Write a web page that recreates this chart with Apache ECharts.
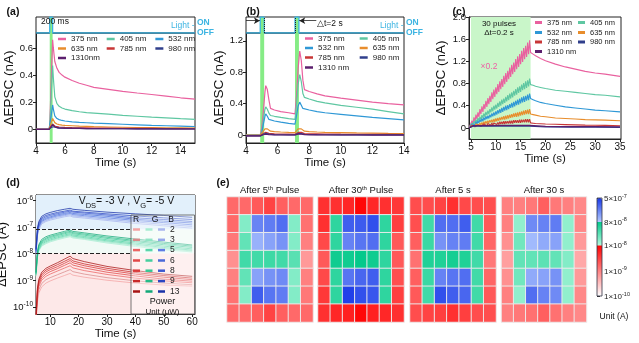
<!DOCTYPE html>
<html><head><meta charset="utf-8">
<script src="https://cdn.jsdelivr.net/npm/echarts@6/dist/echarts.min.js"></script>
<style>html,body{margin:0;padding:0;background:#fff}#c{width:639px;height:343px}</style>
</head><body><div id="c"></div>
<script>
// ---------------- DATA ----------------
// (a) single 200 ms pulse
const aTime = [4,4.9,4.95,5.05,5.15,5.2,5.3,5.45,5.6,5.8,6,6.5,7,7.5,8,9,10,11,12,13,14,15];
const a375  = [0,0,0.02,0.35,0.66,0.6,0.5,0.45,0.42,0.4,0.385,0.36,0.34,0.325,0.31,0.295,0.28,0.268,0.257,0.245,0.233,0.223];
const a405  = [0,0,0.02,0.25,0.47,0.38,0.24,0.19,0.17,0.158,0.15,0.138,0.13,0.124,0.12,0.112,0.104,0.097,0.09,0.085,0.079,0.074];
const a532  = [0,0,0.01,0.1,0.18,0.15,0.1,0.08,0.072,0.066,0.062,0.056,0.052,0.049,0.046,0.042,0.038,0.034,0.03,0.027,0.024,0.021];
const a635  = [0,0,0.005,0.05,0.08,0.07,0.05,0.04,0.035,0.032,0.03,0.027,0.024,0.022,0.02,0.018,0.016,0.014,0.013,0.012,0.011,0.01];
const a785  = [0,0,0.003,0.025,0.04,0.035,0.025,0.02,0.018,0.016,0.015,0.013,0.012,0.011,0.01,0.009,0.008,0.007,0.007,0.006,0.006,0.005];
const a980  = [0,0,0.002,0.015,0.025,0.02,0.015,0.012,0.01,0.009,0.008,0.007,0.007,0.006,0.006,0.005,0.005,0.004,0.004,0.004,0.003,0.003];
const a1310 = [0,0,0.003,0.02,0.035,0.03,0.02,0.015,0.012,0.01,0.009,0.008,0.007,0.006,0.006,0.005,0.005,0.004,0.004,0.003,0.003,0.003];
const aLightTime = [4,4.95,4.95,5.15,5.15,15];
const aLight     = [0,0,1.6,1.6,0,0];
const aBand = [4.95,5.15];

// (b) paired pulses, dt = 2 s
const bTime = [4,4.9,5.0,5.1,5.2,5.25,5.35,5.45,5.55,5.8,6.2,6.7,7.1,7.2,7.3,7.4,7.5,7.6,7.7,8,8.5,9,10,11,12,13,14];
const b375  = [0,0,0.1,0.3,0.55,0.63,0.58,0.45,0.34,0.32,0.3,0.285,0.27,0.5,0.85,1.07,0.95,0.7,0.58,0.555,0.525,0.5,0.47,0.445,0.42,0.4,0.385];
const b405  = [0,0,0.05,0.2,0.33,0.36,0.33,0.28,0.25,0.24,0.225,0.21,0.2,0.4,0.65,0.77,0.68,0.53,0.48,0.46,0.43,0.41,0.38,0.355,0.33,0.3,0.27];
const b532  = [0,0,0.03,0.14,0.24,0.27,0.24,0.2,0.19,0.18,0.165,0.15,0.14,0.25,0.37,0.42,0.38,0.34,0.33,0.32,0.3,0.285,0.265,0.245,0.225,0.21,0.195];
const b635  = [0,0,0.01,0.05,0.08,0.09,0.08,0.06,0.05,0.045,0.04,0.035,0.033,0.05,0.08,0.09,0.08,0.06,0.05,0.045,0.04,0.036,0.032,0.028,0.025,0.022,0.02];
const b785  = [-0.005,-0.005,0.005,0.02,0.03,0.035,0.03,0.022,0.018,0.015,0.013,0.012,0.011,0.02,0.035,0.04,0.035,0.025,0.02,0.018,0.016,0.014,0.012,0.011,0.01,0.009,0.008];
const b980  = [-0.01,-0.01,0,0.012,0.02,0.022,0.018,0.012,0.008,0.006,0.005,0.004,0.004,0.012,0.02,0.025,0.02,0.014,0.01,0.008,0.006,0.005,0.004,0.004,0.003,0.003,0.003];
const b1310 = [-0.01,-0.01,-0.005,0.005,0.01,0.012,0.01,0.006,0.004,0.003,0.002,0.002,0.002,0.006,0.012,0.015,0.012,0.008,0.006,0.004,0.003,0.002,0.002,0.002,0.001,0.001,0.001];
const bLightTime = [4,4.9,4.9,5.15,5.15,7.1,7.1,7.35,7.35,14];
const bLight     = [0,0,1.6,1.6,0,0,1.6,1.6,0,0];
const bBands = [[4.9,5.15],[7.1,7.35]];

// (c) 30 pulses, dt = 0.2 s
const cRampTime = [5.0,5.2,5.4,5.6,5.8,6.0,6.2,6.4,6.6,6.8,7.0,7.2,7.4,7.6,7.8,8.0,8.2,8.4,8.6,8.8,9.0,9.2,9.4,9.6,9.8,10.0,10.2,10.4,10.6,10.8,11.0,11.2,11.4,11.6,11.8,12.0,12.2,12.4,12.6,12.8,13.0,13.2,13.4,13.6,13.8,14.0,14.2,14.4,14.6,14.8,15.0,15.2,15.4,15.6,15.8,16.0,16.2,16.4,16.6,16.8];
const c375Peak   = [0.13,0.19,0.24,0.28,0.34,0.39,0.43,0.49,0.54,0.58,0.64,0.69,0.73,0.79,0.84,0.88,0.94,0.99,1.03,1.09,1.14,1.18,1.24,1.29,1.33,1.39,1.44,1.48,1.54,1.58];
const c375Trough = [0.07,0.11,0.16,0.20,0.25,0.29,0.34,0.38,0.43,0.47,0.52,0.56,0.61,0.65,0.70,0.74,0.79,0.83,0.88,0.92,0.97,1.01,1.06,1.10,1.15,1.19,1.24,1.28,1.33];
const c405Peak   = [0.09,0.12,0.15,0.18,0.20,0.23,0.26,0.29,0.31,0.34,0.37,0.40,0.42,0.45,0.48,0.51,0.53,0.56,0.59,0.62,0.64,0.67,0.70,0.73,0.75,0.78,0.81,0.84,0.86,0.89];
const c405Trough = [0.05,0.08,0.10,0.13,0.15,0.18,0.20,0.23,0.25,0.28,0.30,0.33,0.35,0.38,0.40,0.43,0.45,0.48,0.50,0.53,0.55,0.58,0.60,0.63,0.65,0.68,0.70,0.72,0.75];
const c532Peak   = [0.07,0.09,0.11,0.13,0.15,0.17,0.19,0.21,0.22,0.24,0.26,0.28,0.30,0.32,0.34,0.36,0.38,0.40,0.41,0.43,0.45,0.47,0.49,0.51,0.53,0.55,0.57,0.58,0.60,0.62];
const c532Trough = [0.04,0.06,0.07,0.09,0.11,0.12,0.14,0.16,0.17,0.19,0.21,0.22,0.24,0.26,0.27,0.29,0.31,0.32,0.34,0.36,0.37,0.39,0.41,0.42,0.44,0.46,0.47,0.49,0.50];
const c635Peak   = [0.05,0.06,0.07,0.08,0.09,0.10,0.11,0.12,0.13,0.14,0.15,0.16,0.17,0.18,0.19,0.20,0.21,0.22,0.23,0.24,0.25,0.26,0.27,0.28,0.29,0.30,0.31,0.32,0.33,0.34];
const c635Trough = [0.02,0.03,0.04,0.05,0.05,0.06,0.07,0.08,0.09,0.10,0.10,0.11,0.12,0.13,0.14,0.15,0.15,0.16,0.17,0.18,0.19,0.20,0.20,0.21,0.22,0.23,0.24,0.25,0.25];
const c785Peak   = [0.04,0.04,0.05,0.05,0.06,0.06,0.07,0.07,0.08,0.08,0.09,0.09,0.10,0.10,0.11,0.11,0.12,0.12,0.12,0.13,0.13,0.14,0.14,0.14,0.15,0.15,0.15,0.16,0.16,0.16];
const c785Trough = [0.01,0.02,0.02,0.03,0.03,0.03,0.04,0.04,0.05,0.05,0.05,0.06,0.06,0.06,0.07,0.07,0.07,0.08,0.08,0.08,0.08,0.09,0.09,0.09,0.09,0.10,0.10,0.10,0.10];
const cDecayTime = [17,17.5,18,19,20,22,24,26,28,30,32,35];
const c375Decay = [1.36,1.33,1.30,1.25,1.21,1.15,1.10,1.06,1.02,0.99,0.97,0.93];
const c405Decay = [0.78,0.77,0.75,0.73,0.71,0.68,0.66,0.64,0.62,0.60,0.59,0.56];
const c532Decay = [0.53,0.51,0.49,0.46,0.44,0.41,0.38,0.36,0.34,0.32,0.31,0.29];
const c635Decay = [0.25,0.24,0.23,0.21,0.20,0.18,0.17,0.16,0.15,0.145,0.14,0.13];
const c785Decay = [0.09,0.085,0.08,0.075,0.07,0.065,0.06,0.055,0.05,0.048,0.045,0.04];
const cLowTime = [4.6,5.0,5.4,8,11,14,16.8,17,20,25,30,35];
const c980  = [0,0,0.03,0.032,0.03,0.032,0.03,0.02,0.017,0.014,0.012,0.01];
const c1310 = [0,0,0.04,0.042,0.045,0.044,0.045,0.032,0.027,0.024,0.022,0.02];
const cBand = [5,17];

// (d) RGB light, log current
const dTime = [5,5.5,6,7,8.5,10,12.5,15,17,18,22,30,40,50,60];
const powers = ['2','3','5','6','8','9','13'];
const dB2  = [9e-9,4.5e-8,8e-8,1.3e-7,1.6e-7,1.8e-7,2.1e-7,2.4e-7,2.6e-7,2.35e-7,2.15e-7,1.75e-7,1.35e-7,1.1e-7,9e-8];
const dB3  = [1.0e-8,5e-8,9e-8,1.45e-7,1.75e-7,2.0e-7,2.35e-7,2.65e-7,2.9e-7,2.6e-7,2.4e-7,1.95e-7,1.55e-7,1.25e-7,1.05e-7];
const dB5  = [1.1e-8,5.5e-8,1.0e-7,1.6e-7,1.95e-7,2.2e-7,2.6e-7,2.9e-7,3.2e-7,2.9e-7,2.65e-7,2.2e-7,1.75e-7,1.45e-7,1.2e-7];
const dB6  = [1.2e-8,6.2e-8,1.1e-7,1.75e-7,2.15e-7,2.4e-7,2.85e-7,3.2e-7,3.5e-7,3.2e-7,2.95e-7,2.5e-7,1.95e-7,1.65e-7,1.4e-7];
const dB8  = [1.3e-8,7e-8,1.25e-7,1.95e-7,2.4e-7,2.7e-7,3.15e-7,3.55e-7,3.9e-7,3.6e-7,3.3e-7,2.8e-7,2.2e-7,1.9e-7,1.6e-7];
const dB9  = [1.4e-8,8e-8,1.4e-7,2.2e-7,2.7e-7,3.0e-7,3.5e-7,3.9e-7,4.3e-7,3.9e-7,3.6e-7,3.1e-7,2.6e-7,2.2e-7,1.9e-7];
const dB13 = [1.5e-8,9e-8,1.6e-7,2.5e-7,3.1e-7,3.5e-7,4.1e-7,4.6e-7,5.0e-7,4.6e-7,4.2e-7,3.6e-7,3.1e-7,2.7e-7,2.3e-7];
const dG2  = [1.4e-9,7e-9,1.25e-8,1.9e-8,2.35e-8,2.75e-8,3.3e-8,3.85e-8,4.3e-8,3.85e-8,3.4e-8,2.5e-8,1.85e-8,1.4e-8,1.15e-8];
const dG3  = [1.5e-9,7.5e-9,1.35e-8,2.05e-8,2.55e-8,3.0e-8,3.6e-8,4.2e-8,4.7e-8,4.2e-8,3.7e-8,2.75e-8,2.05e-8,1.55e-8,1.25e-8];
const dG5  = [1.6e-9,8.2e-9,1.45e-8,2.25e-8,2.8e-8,3.25e-8,3.9e-8,4.55e-8,5.1e-8,4.55e-8,4.0e-8,3.0e-8,2.25e-8,1.7e-8,1.35e-8];
const dG6  = [1.7e-9,9e-9,1.6e-8,2.5e-8,3.1e-8,3.6e-8,4.3e-8,5.0e-8,5.6e-8,5.0e-8,4.4e-8,3.3e-8,2.5e-8,1.9e-8,1.5e-8];
const dG8  = [1.8e-9,1.0e-8,1.8e-8,2.75e-8,3.45e-8,4.0e-8,4.75e-8,5.55e-8,6.2e-8,5.55e-8,4.9e-8,3.7e-8,2.8e-8,2.15e-8,1.7e-8];
const dG9  = [1.9e-9,1.1e-8,2.0e-8,3.0e-8,3.8e-8,4.4e-8,5.2e-8,6.1e-8,6.8e-8,6.1e-8,5.4e-8,4.1e-8,3.1e-8,2.4e-8,1.9e-8];
const dG13 = [2e-9,1.2e-8,2.2e-8,3.4e-8,4.3e-8,4.9e-8,5.8e-8,6.8e-8,7.6e-8,6.8e-8,6.0e-8,4.6e-8,3.5e-8,2.7e-8,2.1e-8];
const dR2  = [2.8e-11,1.5e-10,3.3e-10,5.6e-10,7.8e-10,9.4e-10,1.2e-9,1.5e-9,1.8e-9,1.55e-9,1.3e-9,1.0e-9,7.8e-10,6.6e-10,6e-10];
const dR3  = [3e-11,2.0e-10,4.4e-10,7.5e-10,1.05e-9,1.25e-9,1.6e-9,2.05e-9,2.5e-9,2.1e-9,1.7e-9,1.25e-9,9.5e-10,7.8e-10,6.8e-10];
const dR5  = [3.2e-11,2.6e-10,5.8e-10,1.0e-9,1.4e-9,1.7e-9,2.2e-9,2.85e-9,3.5e-9,2.9e-9,2.3e-9,1.65e-9,1.2e-9,9.5e-10,8e-10];
const dR6  = [3.4e-11,3.2e-10,7e-10,1.2e-9,1.7e-9,2.1e-9,2.7e-9,3.6e-9,4.5e-9,3.7e-9,2.9e-9,2.0e-9,1.45e-9,1.1e-9,9.2e-10];
const dR8  = [3.6e-11,3.8e-10,8.2e-10,1.45e-9,2.05e-9,2.5e-9,3.2e-9,4.3e-9,5.5e-9,4.5e-9,3.5e-9,2.4e-9,1.7e-9,1.3e-9,1.05e-9];
const dR9  = [3.8e-11,4.3e-10,9.5e-10,1.7e-9,2.4e-9,2.9e-9,3.8e-9,5.1e-9,6.5e-9,5.3e-9,4.1e-9,2.8e-9,1.95e-9,1.5e-9,1.2e-9];
const dR13 = [4e-11,5e-10,1.1e-9,2.0e-9,2.8e-9,3.4e-9,4.5e-9,6.2e-9,8.0e-9,6.5e-9,5.0e-9,3.3e-9,2.3e-9,1.7e-9,1.4e-9];
const dThresholds = [8e-8, 1e-8];

// (e) 7x7 pixel maps (A)
const hmTitles = ['After 5{sup|th} Pulse','After 30{sup|th} Pulse','After 5 s','After 30 s'];
const hm5thPulse = [
 [1.5e-9,1.5e-9,2e-9,3e-9,1.8e-9,1.5e-9,1.5e-9],
 [1.5e-9,1.7e-8,1.9e-7,2.1e-7,2.5e-7,1.7e-8,1.3e-9],
 [1.15e-9,2.5e-8,1.07e-7,1.3e-7,1.6e-7,1.7e-8,1e-9],
 [7.4e-10,3.7e-8,3.7e-8,3.9e-8,3.7e-8,2.8e-8,6.3e-10],
 [1e-9,2.5e-8,1.3e-7,1.6e-7,1.75e-7,1.7e-8,1e-9],
 [1.3e-9,1.7e-8,3.1e-7,2.3e-7,2.1e-7,1.7e-8,1.15e-9],
 [1.5e-9,1.5e-9,1.8e-9,3e-9,1.8e-9,1.5e-9,1.5e-9]];
const hm30thPulse = [
 [4.2e-9,4.2e-9,4.9e-9,8.7e-9,4.9e-9,4.2e-9,3.6e-9],
 [4.2e-9,4.6e-8,3.1e-7,3.2e-7,3.7e-7,4.6e-8,3.2e-9],
 [2.7e-9,4.6e-8,1.95e-7,2.3e-7,2.5e-7,4.6e-8,2e-9],
 [2e-9,6.6e-8,6.6e-8,7.5e-8,6.6e-8,4.6e-8,2e-9],
 [2.7e-9,4.6e-8,2.3e-7,2.8e-7,3.1e-7,4.6e-8,2.4e-9],
 [3.6e-9,4.6e-8,4.5e-7,3.7e-7,3.4e-7,4.6e-8,3.2e-9],
 [4.2e-9,4.9e-9,5.6e-9,8.7e-9,5.6e-9,4.9e-9,4.2e-9]];
const hmAfter5s = [
 [2.5e-9,2.5e-9,3e-9,4.2e-9,2.7e-9,2.5e-9,2.4e-9],
 [2.4e-9,3.7e-8,2.5e-7,2.5e-7,3.1e-7,3.7e-8,2e-9],
 [1.8e-9,4e-8,1.6e-7,1.95e-7,2.1e-7,3.7e-8,1.6e-9],
 [1.3e-9,5.5e-8,5.5e-8,6.2e-8,5.5e-8,3.7e-8,1.15e-9],
 [1.8e-9,4e-8,1.95e-7,2.3e-7,2.5e-7,3.7e-8,1.6e-9],
 [2e-9,3.7e-8,3.7e-7,3.1e-7,2.8e-7,3.7e-8,2e-9],
 [2.5e-9,3e-9,3.2e-9,4.2e-9,3.2e-9,2.5e-9,2.4e-9]];
const hmAfter30s = [
 [1e-9,1e-9,1.15e-9,1.8e-9,1.15e-9,1e-9,8.5e-10],
 [1e-9,1.45e-8,1.75e-7,1.95e-7,2.1e-7,1.45e-8,8.5e-10],
 [7.4e-10,2.1e-8,9.5e-8,1.17e-7,1.3e-7,1.45e-8,6.3e-10],
 [5.6e-10,2.5e-8,2.5e-8,2.7e-8,2.5e-8,1.7e-8,4.8e-10],
 [7.4e-10,2.1e-8,1.17e-7,1.3e-7,1.6e-7,1.45e-8,6.3e-10],
 [1e-9,1.45e-8,2.5e-7,1.95e-7,1.75e-7,1.45e-8,8.5e-10],
 [1e-9,1.15e-9,1.3e-9,1.8e-9,1.3e-9,1e-9,8.5e-10]];
const cbTicks = [1e-10,1e-9,1e-8,8e-8,5e-7];
const cbTickLabels = [['1','-10'],['1','-9'],['1','-8'],['8','-8'],['5','-7']];

// ---------------- STYLE / BUILD ----------------
const FONT = "'Liberation Sans', Arial, sans-serif";
const NARROW = "'Liberation Sans Narrow', 'Arial Narrow', 'Liberation Sans', sans-serif";
const COL = {'375':'#e9619f','405':'#5fc7a2','532':'#2f98d6','635':'#e88d2c','785':'#c83636','980':'#303f8c','1310':'#5c1f6e'};
const CYAN = '#3cb4e2';
const BAND = '#86ec86';

function pairs(xs, ys){ return xs.map((x,i)=>[x, ys[i]]); }
function ramp(peaks, troughs){ const v=[0]; for(let i=0;i<peaks.length;i++){ v.push(peaks[i]); if(i<troughs.length) v.push(troughs[i]); } return v; }

function xAxisV(gi, min, max, ticks, extra){
  return Object.assign({type:'value', gridIndex:gi, min, max,
    axisLine:{show:true, onZero:false, lineStyle:{color:'#222'}},
    axisTick:{show:true, customValues:ticks, length:3, lineStyle:{color:'#222'}},
    axisLabel:{customValues:ticks, color:'#111', fontSize:10, margin:3, fontFamily:FONT},
    splitLine:{show:false}, name:'Time (s)', nameLocation:'middle', nameGap:13,
    nameTextStyle:{fontSize:11.5, color:'#111', fontFamily:FONT}}, extra||{});
}
function yAxisV(gi, min, max, ticks, fmt, extra){
  return Object.assign({type:'value', gridIndex:gi, min, max,
    axisLine:{show:true, onZero:false, lineStyle:{color:'#222'}},
    axisTick:{show:true, customValues:ticks, length:3, lineStyle:{color:'#222'}},
    axisLabel:{customValues:ticks, formatter:fmt, color:'#111', fontSize:9.5, margin:3, fontFamily:FONT},
    splitLine:{show:false}, name:'ΔEPSC (nA)', nameLocation:'middle', nameGap:16,
    nameTextStyle:{fontSize:13.5, color:'#111', fontFamily:FONT}}, extra||{});
}
const numFmt = d => v => (Math.abs(v) < 1e-9 ? '0' : v.toFixed(d));

const grids = [
  [36,17,159,16],[36,33,159,110],[246,17,158,16],[246,33,158,110],
  [469,17,152,122],[36,195,159,119],
  [227,197,86,125],[318,197,86,125],[410,197,86,125],[501.5,197,85,125],
  [597,198,5,98]
].map((g,i)=>({left:g[0], top:g[1], width:g[2], height:g[3], containLabel:false, outerBoundsMode:'none',
  show: i<=5, borderColor:'#222', borderWidth:1, backgroundColor:'transparent'}));

const stripY = gi => ({type:'value', gridIndex:gi, min:0, max:1.6, position:'right',
  axisLine:{show:false}, axisTick:{show:false}, splitLine:{show:false},
  axisLabel:{customValues:[0,1], formatter:v=>v>0.5?'ON':'OFF', color:CYAN, fontSize:8.5, margin:2, fontFamily:FONT, fontWeight:'bold'}});

const catAx = (gi, inv) => ({type:'category', gridIndex:gi, data:['0','1','2','3','4','5','6'], show:false, inverse:!!inv});

const xAxes = [
  {type:'value', gridIndex:0, min:4, max:15, show:false},
  xAxisV(1, 4, 15, [4,6,8,10,12,14], {nameGap:12}),
  {type:'value', gridIndex:2, min:4, max:14, show:false},
  xAxisV(3, 4, 14, [4,6,8,10,12,14], {nameGap:13}),
  xAxisV(4, 4.6, 35.2, [5,10,15,20,25,30,35], {nameGap:11}),
  xAxisV(5, 5, 61, [10,20,30,40,50,60], {nameGap:10, nameTextStyle:{fontSize:11.5, color:'#111', fontFamily:FONT}}),
  catAx(6), catAx(7), catAx(8), catAx(9),
  {type:'value', gridIndex:10, min:0, max:1, show:false}
];

function ampToU(a){
  const L = Math.log10(a), l8 = Math.log10(8e-8), l5 = Math.log10(5e-7);
  if (L <= -8) return Math.max(0, (L+10)/2*52);
  if (L <= l8) return 52 + (L+8)/(l8+8)*24;
  return Math.min(100, 76 + (L-l8)/(l5-l8)*24);
}
function mix(c1,c2,t){ return 'rgb('+c1.map((v,i)=>Math.round(v+(c2[i]-v)*t)).join(',')+')'; }
function colorAt(u){
  if (u < 52) return mix([255,255,255],[255,0,0],u/52);
  if (u < 76) return mix([176,248,220],[0,200,136],(u-52)/24);
  return mix([176,200,255],[24,56,232],(u-76)/24);
}
const stops = []; for (let i=0;i<=200;i++) stops.push(colorAt(i/2));
const cbU = cbTicks.map(ampToU);

const supRich = {
  b:{fontSize:9.5, verticalAlign:'bottom', fontFamily:FONT, color:'#111'},
  s:{fontSize:6.5, verticalAlign:'bottom', padding:[0,0,5,0], fontFamily:FONT, color:'#111'}
};

const yAxes = [
  stripY(0),
  yAxisV(1, -0.1, 0.71, [0,0.2,0.4,0.6], numFmt(1), {nameGap:18}),
  stripY(2),
  yAxisV(3, -0.1, 1.3, [0,0.4,0.8,1.2], numFmt(1), {nameGap:18}),
  yAxisV(4, -0.2, 2.0, [0,0.4,0.8,1.2,1.6,2.0], numFmt(1), {nameGap:21}),
  {type:'log', logBase:10, gridIndex:5, min:5.4e-11, max:1.58e-6,
   axisLine:{show:true, onZero:false, lineStyle:{color:'#222'}},
   axisTick:{show:true, customValues:[1e-10,1e-9,1e-8,1e-7,1e-6], length:3, lineStyle:{color:'#222'}},
   minorTick:{show:false}, splitLine:{show:false},
   axisLabel:{customValues:[1e-10,1e-9,1e-8,1e-7,1e-6], margin:3,
     formatter:v=>'{b|10}{s|'+Math.round(Math.log10(v))+'}', rich:supRich},
   name:'ΔEPSC (A)', nameLocation:'middle', nameGap:20, nameTextStyle:{fontSize:13, color:'#111', fontFamily:FONT}},
  catAx(6,true), catAx(7,true), catAx(8,true), catAx(9,true),
  {type:'value', gridIndex:10, min:0, max:100, position:'right',
   axisLine:{show:false}, splitLine:{show:false},
   axisTick:{show:true, customValues:cbU, length:3, lineStyle:{color:'#333'}},
   axisLabel:{customValues:cbU, margin:2, formatter:v=>{
       let k=0, best=1e9; cbU.forEach((u,i)=>{ if(Math.abs(u-v)<best){best=Math.abs(u-v);k=i;} });
       return '{b|'+cbTickLabels[k][0]+'×10}{s|'+cbTickLabels[k][1]+'}'; },
     rich:{b:{fontSize:8, verticalAlign:'bottom', fontFamily:FONT, color:'#222'}, s:{fontSize:5.5, verticalAlign:'bottom', padding:[0,0,4,0], fontFamily:FONT, color:'#222'}}}}
];

const series = [];
function line(name, gi, data, color, extra){
  series.push(Object.assign({type:'line', name, xAxisIndex:gi, yAxisIndex:gi, data, showSymbol:false, symbol:'none',
    color, lineStyle:{width:1.2, color}, silent:true, z:3, animation:false}, extra||{}));
}

// (a)
line('strip-a', 0, pairs(aLightTime, aLight), CYAN, {lineStyle:{width:1.3, color:CYAN},
  markArea:{silent:true, itemStyle:{color:BAND}, data:[[{xAxis:aBand[0]},{xAxis:aBand[1]}]]}, z:2});
[['375 nm',a375,'375'],['405 nm',a405,'405'],['532 nm',a532,'532'],['635 nm',a635,'635'],['785 nm',a785,'785'],['980 nm',a980,'980'],['1310nm',a1310,'1310']]
  .forEach((s,i)=>line(s[0],1,pairs(aTime,s[1]),COL[s[2]], i===0?{markArea:{silent:true,itemStyle:{color:BAND},data:[[{xAxis:aBand[0]},{xAxis:aBand[1]}]]}}:{}));
// (b)
line('strip-b', 2, pairs(bLightTime, bLight), CYAN, {lineStyle:{width:1.3, color:CYAN}, z:2,
  markArea:{silent:true, itemStyle:{color:BAND}, data:bBands.map(b=>[{xAxis:b[0]},{xAxis:b[1]}])},
  markLine:{silent:true, symbol:['none','arrow'], symbolSize:[5,6], label:{show:false}, lineStyle:{color:'#222', type:'solid', width:0.8},
    data:[[{coord:[4,1.23]},{coord:[4.88,1.23]}],[{coord:[8.45,1.23]},{coord:[7.37,1.23]}],
      [{coord:[5.15,0], symbol:'none', lineStyle:{type:'dotted', color:'#222', width:1}},{coord:[5.15,1.6], symbol:'none'}],
      [{coord:[7.1,0], symbol:'none', lineStyle:{type:'dotted', color:'#222', width:1}},{coord:[7.1,1.6], symbol:'none'}]]}});
[['375 nm',b375,'375'],['405 nm',b405,'405'],['532 nm',b532,'532'],['635 nm',b635,'635'],['785 nm',b785,'785'],['980 nm',b980,'980'],['1310 nm',b1310,'1310']]
  .forEach((s,i)=>line(s[0],3,pairs(bTime,s[1]),COL[s[2]], i===0?{markArea:{silent:true,itemStyle:{color:BAND},data:bBands.map(b=>[{xAxis:b[0]},{xAxis:b[1]}])}}:{}));
// (c)
const cRamps = [['375 nm',c375Peak,c375Trough,c375Decay,'375'],['405 nm',c405Peak,c405Trough,c405Decay,'405'],
  ['532 nm',c532Peak,c532Trough,c532Decay,'532'],['635 nm',c635Peak,c635Trough,c635Decay,'635'],['785 nm',c785Peak,c785Trough,c785Decay,'785']];
cRamps.forEach((s,i)=>{
  const d = [[4.6,0]].concat(pairs(cRampTime, ramp(s[1],s[2]))).concat(pairs(cDecayTime, s[3]));
  line(s[0],4,d,COL[s[4]], Object.assign({lineStyle:{width:1.1,color:COL[s[4]]}},
    i===0?{markArea:{silent:true,itemStyle:{color:'#c9f6c9'},data:[[{xAxis:cBand[0]},{xAxis:cBand[1]}]]}, z:3}:{}));
});
line('980 nm',4,pairs(cLowTime,c980),COL['980']);
line('1310 nm',4,pairs(cLowTime,c1310),COL['1310']);
// (d)
const redCols   = ['#f3a3a3','#d98a8a','#ec6464','#e04848','#d83a3a','#c82828','#a81414'];
const greenCols = ['#a8ecd2','#8fe4c4','#5ad6aa','#45cf9e','#35c693','#25bb88','#12a878'];
const blueCols  = ['#aab6ee','#95a6ea','#5f7ce4','#4b6ad9','#3b58d0','#2b46c2','#1a32a8'];
const dR = [dR2,dR3,dR5,dR6,dR8,dR9,dR13], dG = [dG2,dG3,dG5,dG6,dG8,dG9,dG13], dB = [dB2,dB3,dB5,dB6,dB8,dB9,dB13];
dR.forEach((arr,i)=>line('R'+powers[i],5,pairs(dTime,arr),redCols[i],{lineStyle:{width:0.9,color:redCols[i],opacity:0.85},
  ...(i===0?{markArea:{silent:true,data:[
    [{yAxis:dThresholds[0], itemStyle:{color:'#e2f0fb'}},{yAxis:1.58e-6}],
    [{yAxis:dThresholds[1], itemStyle:{color:'#f1faf6'}},{yAxis:dThresholds[0]}],
    [{yAxis:5.4e-11, itemStyle:{color:'#fde8e8'}},{yAxis:dThresholds[1]}]]},
   markLine:{silent:true, symbol:'none', label:{show:false}, lineStyle:{color:'#222', type:'dashed', width:1},
    data:dThresholds.map(t=>[{coord:[5,t]},{coord:[38.5,t]}])}}:{})}));
dG.forEach((arr,i)=>line('G'+powers[i],5,pairs(dTime,arr),greenCols[i],{lineStyle:{width:0.9,color:greenCols[i],opacity:0.85}}));
dB.forEach((arr,i)=>line('B'+powers[i],5,pairs(dTime,arr),blueCols[i],{lineStyle:{width:0.9,color:blueCols[i],opacity:0.85}}));
// (e)
const hmSets = [hm5thPulse, hm30thPulse, hmAfter5s, hmAfter30s];
const hmIdx = [];
hmSets.forEach((m,k)=>{
  const d=[]; m.forEach((row,r)=>row.forEach((a,c)=>d.push([c,r,a,ampToU(a)])));
  hmIdx.push(series.length);
  series.push({type:'heatmap', name:'hm'+k, xAxisIndex:6+k, yAxisIndex:6+k, data:d, silent:true, animation:false,
    itemStyle:{borderColor:'rgba(236,236,236,0.95)', borderWidth:1}, emphasis:{disabled:true}});
});

// legends
const lg = (names, left, top, extra) => Object.assign({data:names, left, top, orient:'horizontal', padding:0, icon:'rect',
  itemWidth:8, itemHeight:2.5, itemGap:9, selectedMode:false, z:10,
  textStyle:{fontSize:8, color:'#222', fontFamily:FONT}}, extra||{});
const legends = [
  lg(['375 nm','405 nm','532 nm'],58,35), lg(['635 nm','785 nm','980 nm'],58,44.5), lg(['1310nm'],58,54),
  lg(['375 nm','405 nm'],305,34.5,{itemGap:15}), lg(['532 nm','635 nm'],305,44,{itemGap:15}),
  lg(['785 nm','980 nm'],305,53.5,{itemGap:15}), lg(['1310 nm'],305,63.5,{itemGap:15}),
  lg(['375 nm','405 nm'],535,18.5,{itemGap:6,itemWidth:7,itemHeight:3,textStyle:{fontSize:7.5,color:'#222',fontFamily:FONT}}),
  lg(['532 nm','635 nm'],535,28.5,{itemGap:6,itemWidth:7,itemHeight:3,textStyle:{fontSize:7.5,color:'#222',fontFamily:FONT}}),
  lg(['785 nm','980 nm'],535,38,{itemGap:6,itemWidth:7,itemHeight:3,textStyle:{fontSize:7.5,color:'#222',fontFamily:FONT}}),
  lg(['1310 nm'],535,47.5,{itemGap:6,itemWidth:7,itemHeight:3,textStyle:{fontSize:7.5,color:'#222',fontFamily:FONT}})
];
const rowY = [230,240.3,250.6,261,271.2,281.6,292];
powers.forEach((p,i)=>legends.push(lg(['R'+p,'G'+p,'B'+p],133,rowY[i]-5,{itemWidth:7,itemHeight:2.5,itemGap:5.5,
  formatter:n=>n[0]==='B'?n.slice(1):'', textStyle:{fontSize:8.5,color:'#222',fontFamily:FONT}})));

// text annotations
function T(text,x,y,o){ o=o||{}; const st={text, fill:o.fill||'#111', fontSize:o.size||9, fontWeight:o.weight||'normal',
  fontFamily:o.family||FONT, align:o.align||'center', verticalAlign:'middle', textAlign:o.align||'center', textVerticalAlign:'middle'};
  if(o.rich) st.rich=o.rich; return {type:'text', x, y, z:20, silent:true, style:st}; }
const hmRich = {sup:{fontSize:6, verticalAlign:'bottom', padding:[0,0,4,0], fontFamily:NARROW, fill:'#111', color:'#111'}};
const vRich = {b:{fontSize:10.5, verticalAlign:'bottom', padding:[0,0,3,0], fontFamily:FONT, color:'#111'},
               s:{fontSize:7.5, verticalAlign:'bottom', fontFamily:FONT, color:'#111'}};
const graphic = [
  T('(a)',13,12.5,{weight:'bold',size:10.5}), T('(b)',253,12,{weight:'bold',size:10.5}), T('(c)',459,12,{weight:'bold',size:10.5}),
  T('(d)',13,183,{weight:'bold',size:10.5}), T('(e)',223,183,{weight:'bold',size:10.5}),
  T('200 ms',55,21.5,{size:8.5}),
  T('Light -',194.5,26,{size:8.5,fill:CYAN,align:'right'}), T('Light -',403.5,26,{size:8.5,fill:CYAN,align:'right'}),
  T('△t=2 s',317,23.5,{size:8.5,align:'left'}),
  T('30 pulses',499,24,{size:8}), T('Δt=0.2 s',499,32.5,{size:8}), T('×0.2',489,66.5,{size:8.5,fill:'#ee5fa5'}),
  T('{b|V}{s|DS}{b|= -3 V , V}{s|G}{b|= -5 V}',126.5,203,{rich:vRich}),
  {type:'rect', z:8, silent:true, shape:{x:131,y:215,width:63.5,height:99}, style:{fill:'rgba(255,255,255,0.35)', stroke:'#555', lineWidth:0.8}},
  T('R',136,220,{size:8.5}), T('G',155,220,{size:8.5}), T('B',171,220,{size:8.5}),
  T('Power',162.5,301.7,{size:9}), T('Unit (μW)',162.5,311.5,{size:8}),
  T(hmTitles[0],269.7,190,{rich:hmRich,size:9.5,family:NARROW}), T(hmTitles[1],361,190,{rich:hmRich,size:9.5,family:NARROW}),
  T(hmTitles[2],453,190,{size:9.5,family:NARROW}), T(hmTitles[3],544,190,{size:9.5,family:NARROW}),
  {type:'rect', z:30, silent:true, shape:{x:597,y:198,width:5,height:98}, style:{fill:'none', stroke:'#334', lineWidth:0.8}},
  T('Unit (A)',614,317,{size:8.5})
];

const option = {
  animation:false,
  textStyle:{fontFamily:FONT},
  grid:grids, xAxis:xAxes, yAxis:yAxes, series, legend:legends, graphic,
  visualMap:{type:'continuous', min:0, max:100, dimension:3, seriesIndex:hmIdx, inRange:{color:stops},
    calculable:false, hoverLink:false, orient:'vertical', left:597, top:198, itemWidth:5, itemHeight:98, padding:0, z:20}
};
const chart = echarts.init(document.getElementById('c'), null, {renderer:'canvas'});
chart.setOption(option);
</script></body></html>
